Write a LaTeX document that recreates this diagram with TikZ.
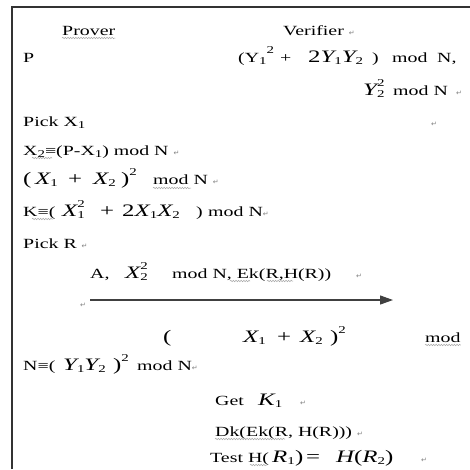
\documentclass[tikz,border=0pt]{standalone}
\usepackage{fontspec}
\setmainfont{Liberation Serif}[FakeStretch=1.42]
\newfontfamily\symfont{DejaVu Sans}
\usetikzlibrary{arrows.meta,decorations.pathmorphing}
\newcommand{\mv}[1]{{\fontsize{17.5}{17.5}\selectfont\itshape #1}}
\newcommand{\mr}[1]{{\fontsize{17.5}{17.5}\selectfont #1}}
\newcommand{\sbs}[1]{\raisebox{-0.45ex}{\fontsize{10.5}{10.5}\selectfont #1}}
\newcommand{\sps}[1]{\raisebox{1.25ex}{\fontsize{10.5}{10.5}\selectfont #1}}
\newcommand{\stk}[2]{\makebox[0pt][l]{\sps{#2}}\sbs{#1}}
\newcommand{\retm}{{\color{gray}\fontsize{7}{7}\selectfont\symfont ↵}}
\tikzset{
  txt/.style={inner sep=0pt, anchor=base west, font=\fontsize{14}{16}\selectfont},
  frame/.style={line width=1.5pt, draw=black!80},
  sendarrow/.style={line width=1.2pt, draw=black!75, -{Triangle[length=13pt,width=9pt]}},
  wavy/.style={draw=gray!70, line width=0.5pt, decorate, decoration={snake, amplitude=0.7pt, segment length=2.6pt}}
}
\begin{document}
\begin{tikzpicture}[x=1pt,y=-1pt]
\useasboundingbox (0,0) rectangle (470,469);
\fill[white] (0,0) rectangle (470,469);
\draw[frame] (12,469) -- (12,7) -- (470,7);

% line 1
\node[txt] (prover) at (62,35) {Prover};
\node[txt] (verifier) at (283,35) {Verifier \retm};
% line 2
\node[txt] (p) at (23,62) {P};
\node[txt] (v2a) at (238,62) {(Y\sbs{1}\sps{2}};
\node[txt] (v2b) at (280,62) {+};
\node[txt] (v2c) at (308,62) {\mr{2}\mv{Y}\sbs{1}\mv{Y}\sbs{2}};
\node[txt] (v2d) at (372,62) {)};
\node[txt] (v2e) at (392,62) {mod};
\node[txt] (v2f) at (437,62) {N,};
% line 3
\node[txt] (v3a) at (363,95) {\mv{Y}\stk{2}{2}};
\node[txt] (v3b) at (393,95) {mod N};
\node[txt] (v3c) at (456,95) {\retm};
% line 4
\node[txt] (pick1) at (23,126) {Pick X\sbs{1}};
\node[txt] (r4) at (431,126) {\retm};
% line 5
\node[txt] (x2) at (23,155) {X\sbs{2}≡(P-X\sbs{1}) mod N \retm};
% line 6
\node[txt] (s6a) at (23,184) {\mr{(}};
\node[txt] (s6b) at (35,184) {\mv{X}\sbs{1}};
\node[txt] (s6c) at (68,184) {\mr{+}};
\node[txt] (s6d) at (93,184) {\mv{X}\sbs{2}};
\node[txt] (s6e) at (121,184) {\mr{)}\sps{2}};
\node[txt] (s6f) at (153,184) {mod N \retm};
% line 7
\node[txt] (k7a) at (23,216) {K≡(};
\node[txt] (k7b) at (62,216) {\mv{X}\stk{1}{2}};
\node[txt] (k7c) at (100,216) {\mr{+}};
\node[txt] (k7d) at (122,216) {\mr{2}\mv{X}\sbs{1}\mv{X}\sbs{2}};
\node[txt] (k7e) at (196,216) {)};
\node[txt] (k7f) at (208,216) {mod N\retm};
% line 8
\node[txt] (pickr) at (23,248) {Pick R \retm};
% line 9
\node[txt] (m9a) at (90,278) {A,};
\node[txt] (m9b) at (125,278) {\mv{X}\stk{2}{2}};
\node[txt] (m9c) at (172,278) {mod N, Ek(R,H(R))};
\node[txt] (m9d) at (356,278) {\retm};
% arrow
\coordinate (as) at (90,300);
\coordinate (ae) at (393,300);
\draw[sendarrow] (as) -- (ae);
\node[txt] (r9) at (80,307) {\retm};
% line 10
\node[txt] (t10a) at (163,342) {\mr{(}};
\node[txt] (t10b) at (243,342) {\mv{X}\sbs{1}};
\node[txt] (t10c) at (277,342) {\mr{+}};
\node[txt] (t10d) at (300,342) {\mv{X}\sbs{2}};
\node[txt] (t10e) at (330,342) {\mr{)}\sps{2}};
\node[txt] (t10f) at (425,342) {mod};
% line 11
\node[txt] (n11a) at (23,370) {N≡(};
\node[txt] (n11b) at (63,370) {\mv{Y}\sbs{1}\mv{Y}\sbs{2}};
\node[txt] (n11c) at (113,370) {\mr{)}\sps{2}};
\node[txt] (n11d) at (137,370) {mod N\retm};
% line 12
\node[txt] (get) at (215,405) {Get};
\node[txt] (k1) at (258,405) {\mv{K}\sbs{1}};
\node[txt] (r12) at (300,405) {\retm};
% line 13
\node[txt] (dk) at (215,436) {Dk(Ek(R, H(R))) \retm};
% line 14
\node[txt] (t14a) at (210,462) {Test H(};
\node[txt] (t14b) at (272,462) {\mv{R}\sbs{1}};
\node[txt] (t14c) at (295,462) {\mr{)}};
\node[txt] (t14d) at (306,462) {\mr{=}};
\node[txt] (t14e) at (336,462) {\mv{H}\mr{(}\mv{R}\sbs{2}\mr{)}};
\node[txt] (r14) at (421,462) {\retm};

% spell-check wavy underlines
\draw[wavy] ([yshift=-3pt]prover.base west) -- ([yshift=-3pt]prover.base east);
\draw[wavy] (32,158) -- (52,158);
\draw[wavy] ([yshift=-4pt]s6f.base west) -- ++(38,0);
\draw[wavy] (32,219) -- (53,219);
\draw[wavy] (230,281) -- (250,281);
\draw[wavy] (267,281) -- (293,281);
\draw[wavy] ([yshift=-3pt]t10f.base west) -- ([yshift=-3pt]t10f.base east);
\draw[wavy] (215,439) -- (285,439);
\draw[wavy] (250,465) -- (267,465);
\end{tikzpicture}
\end{document}
